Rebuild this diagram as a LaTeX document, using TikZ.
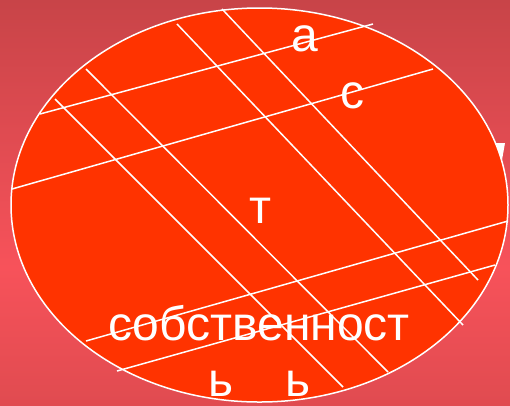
\documentclass[tikz,border=0pt]{standalone}
\usepackage{fontspec}
\setmainfont{Liberation Sans}
\definecolor{bgtop}{HTML}{C84448}
\definecolor{bgmid}{HTML}{F7525A}
\definecolor{bgbot}{HTML}{E04B50}
\definecolor{disc}{HTML}{FF3300}
\pgfdeclareverticalshading{bgfade}{100bp}{color(0bp)=(bgbot); color(25bp)=(bgbot); color(42bp)=(bgmid); color(75bp)=(bgtop); color(100bp)=(bgtop)}
\tikzset{gridline/.style={white,line width=1.5pt},
  letter/.style={text=white,font=\fontsize{48}{48}\selectfont,anchor=base,inner sep=0pt}}

\begin{document}
\begin{tikzpicture}[x=1pt,y=-1pt]
\useasboundingbox (0,0) rectangle (510,405);
\shade[shading=bgfade] (0,0) rectangle (510,405);
% piece of a letter hidden behind the disc
\fill[white] (494,143) -- (505,143) -- (502,160) -- cycle;
\filldraw[fill=disc,draw=white,line width=1.5pt] (259.5,205) ellipse [x radius=248.5,y radius=197];
% rising lines
\draw[gridline] (40,114) -- (373,24);
\draw[gridline] (12,189) -- (433,69);
\draw[gridline] (86,341) -- (508,221);
\draw[gridline] (117,371) -- (495,265);
% falling lines
\draw[gridline] (222,9) -- (478,280);
\draw[gridline] (177,24) -- (463,325);
\draw[gridline] (86,69) -- (388,372);
\draw[gridline] (55,99) -- (343,387);
% letters
\node[letter] (a) at (305,51) {а};
\node[letter] (s) at (352,108) {с};
\node[letter] (t) at (260,223) {т};
\node[letter] (word) at (259,340) {собственност};
\node[letter] (soft1) at (221,396) {ь};
\node[letter] (soft2) at (298,396) {ь};
\end{tikzpicture}
\end{document}
